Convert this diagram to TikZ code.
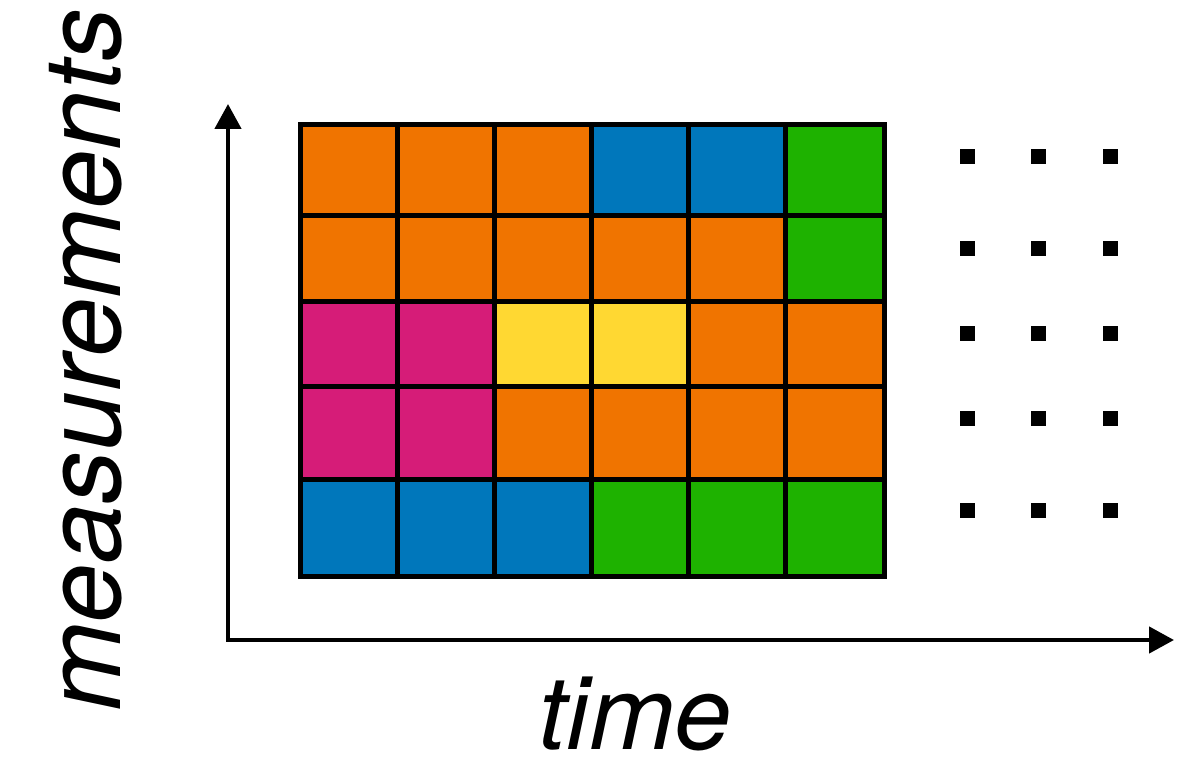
\documentclass[tikz,border=0pt]{standalone}
\usepackage{fontspec}
\setmainfont{TeX Gyre Heros}
\usetikzlibrary{arrows.meta}
\definecolor{cOrange}{RGB}{240,116,0}
\definecolor{cBlue}{RGB}{0,119,187}
\definecolor{cGreen}{RGB}{30,178,0}
\definecolor{cPink}{RGB}{214,28,120}
\definecolor{cYellow}{RGB}{255,216,50}
\tikzset{
  gridline/.style={line width=3.75pt, line cap=rect, line join=miter},
  axis/.style={line width=3.4pt, -{Triangle[length=18.75pt,width=19.5pt]}},
  dotmark/.style={fill=black},
  label/.style={inner sep=0pt}
}
\begin{document}
\begin{tikzpicture}[x=0.75pt, y=-0.75pt]
  \useasboundingbox (0,0) rectangle (1198,762);
  % column and row boundaries of the grid
  \def\xs{{300,397,494,591,688,785,884}}
  \def\ys{{125,216,301.5,386.5,479,576}}
  % cell colours, row by row
  \foreach \r/\row in {0/{cOrange,cOrange,cOrange,cBlue,cBlue,cGreen},
                       1/{cOrange,cOrange,cOrange,cOrange,cOrange,cGreen},
                       2/{cPink,cPink,cYellow,cYellow,cOrange,cOrange},
                       3/{cPink,cPink,cOrange,cOrange,cOrange,cOrange},
                       4/{cBlue,cBlue,cBlue,cGreen,cGreen,cGreen}}{
    \foreach \col [count=\c from 0] in \row {
      \pgfmathsetmacro{\xa}{\xs[\c]}
      \pgfmathsetmacro{\xb}{\xs[\c+1]}
      \pgfmathsetmacro{\ya}{\ys[\r]}
      \pgfmathsetmacro{\yb}{\ys[\r+1]}
      \fill[\col] (\xa,\ya) rectangle (\xb,\yb);
    }
  }
  % grid lines
  \foreach \x in {300,397,494,591,688,785,884}
    \draw[gridline] (\x,125) -- (\x,576);
  \foreach \y in {125,216,301.5,386.5,479,576}
    \draw[gridline] (300,\y) -- (884,\y);
  % continuation dots
  \foreach \x in {967,1038,1110}
    \foreach \y in {156.5,248.5,333.5,418.5,510.5}
      \fill[dotmark] (\x-7.5,\y-7.5) rectangle (\x+7.5,\y+7.5);
  % axes
  \coordinate (origin) at (228,640);
  \coordinate (ytip) at (228,104);
  \coordinate (xtip) at (1174,640);
  \draw[axis] (origin) -- (ytip);
  \draw[axis] (origin) -- (xtip);
  \fill (226,638) rectangle (230,642);
  % axis labels
  \node[label, rotate=90, anchor=base, font=\fontsize{80}{84}\selectfont\itshape]
    (ylabel) at (120,360) {measurements};
  \node[label, anchor=base, font=\fontsize{77}{80}\selectfont\itshape]
    (xlabel) at (635,749) {time};
\end{tikzpicture}
\end{document}
